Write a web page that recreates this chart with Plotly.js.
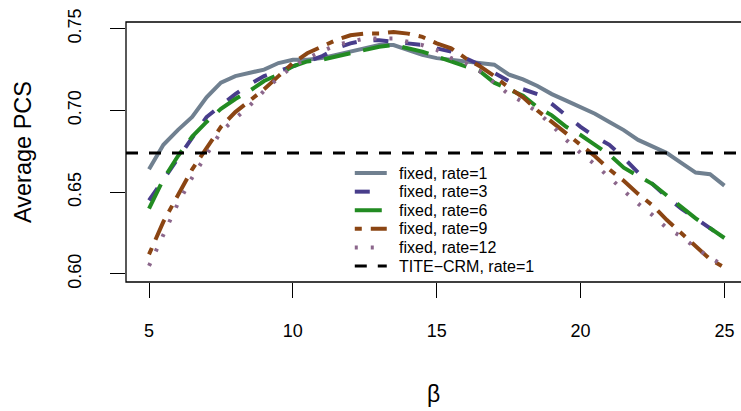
<!DOCTYPE html>
<html>
<head>
<meta charset="utf-8">
<script src="https://cdn.plot.ly/plotly-3.0.1.min.js"></script>
<style>html,body{margin:0;padding:0;background:#fff;}#chart{width:741px;height:411px;}</style>
</head>
<body>
<div id="chart"></div>
<script>
// beta grid
const beta = [5,5.5,6,6.5,7,7.5,8,8.5,9,9.5,10,10.5,11,11.5,12,12.5,13,13.5,14,14.5,15,15.5,16,16.5,17,17.5,18,18.5,19,19.5,20,20.5,21,21.5,22,22.5,23,23.5,24,24.5,25];

const rate1 = [0.664,0.679,0.688,0.696,0.708,0.717,0.721,0.723,0.725,0.729,0.731,0.731,0.732,0.734,0.736,0.738,0.740,0.740,0.737,0.734,0.732,0.731,0.730,0.729,0.728,0.722,0.719,0.715,0.710,0.706,0.702,0.698,0.693,0.688,0.682,0.678,0.674,0.668,0.662,0.661,0.654];
const rate3 = [0.645,0.658,0.671,0.684,0.696,0.703,0.710,0.716,0.721,0.724,0.727,0.730,0.733,0.738,0.741,0.743,0.743,0.742,0.741,0.740,0.738,0.736,0.732,0.728,0.723,0.718,0.713,0.710,0.704,0.697,0.690,0.684,0.679,0.671,0.662,0.655,0.647,0.640,0.634,0.628,0.622];
const rate6 = [0.640,0.658,0.672,0.684,0.693,0.701,0.707,0.712,0.718,0.722,0.727,0.730,0.731,0.733,0.735,0.737,0.739,0.740,0.738,0.736,0.733,0.730,0.727,0.724,0.717,0.713,0.709,0.702,0.697,0.690,0.685,0.679,0.673,0.665,0.660,0.655,0.648,0.641,0.634,0.628,0.622];
const rate9 = [0.612,0.632,0.648,0.664,0.677,0.690,0.699,0.706,0.713,0.721,0.729,0.735,0.739,0.743,0.746,0.747,0.747,0.748,0.747,0.745,0.741,0.738,0.732,0.727,0.721,0.714,0.708,0.700,0.693,0.686,0.679,0.672,0.664,0.657,0.649,0.642,0.633,0.625,0.617,0.609,0.604];
const rate12 = [0.605,0.624,0.643,0.659,0.673,0.687,0.695,0.703,0.712,0.720,0.727,0.732,0.736,0.740,0.742,0.744,0.744,0.744,0.742,0.740,0.737,0.732,0.729,0.724,0.717,0.710,0.705,0.699,0.691,0.682,0.674,0.667,0.659,0.651,0.643,0.636,0.628,0.623,0.616,0.610,0.605];
const titeCrm = 0.674;

const seriesNames = ["fixed, rate=1","fixed, rate=3","fixed, rate=6","fixed, rate=9","fixed, rate=12","TITE\u2212CRM, rate=1"];
const xTicks = [5,10,15,20,25];
const yTicks = [0.60,0.65,0.70,0.75];

const xRange = [4.2, 25.576];
const yRange = [0.5951, 0.7541];

const styles = [
  {color:"#708090", width:4, dash:"solid"},
  {color:"#483D8B", width:4, dash:"15px,17px"},
  {color:"#228B22", width:4, dash:"27px,13px"},
  {color:"#8B4513", width:4, dash:"7px,9px,22px,9px"},
  {color:"#8B668B", width:4, dash:"3px,13px"},
  {color:"#000000", width:3, dash:"12px,11px"}
];
const ys = [rate1, rate3, rate6, rate9, rate12];
const traces = ys.map((y,i)=>({
  x: beta, y: y, type:"scatter", mode:"lines", name: seriesNames[i],
  line: styles[i], hoverinfo:"skip", showlegend:false
}));
traces.push({
  x: xRange, y: [titeCrm, titeCrm], type:"scatter", mode:"lines", name: seriesNames[5],
  line: styles[5], hoverinfo:"skip", showlegend:false
});

// hand-built legend (R-style, no box), in paper coordinates
const legTop = 0.419, legStep = 0.0715, legX0 = 0.372, legX1 = 0.424, legTextX = 0.440;
const shapes = [{type:"rect", xref:"paper", yref:"paper", x0:0, x1:1.05, y0:0, y1:1,
           line:{color:"#000", width:1.3}, fillcolor:"rgba(0,0,0,0)", layer:"above"}];
const annotations = [];
seriesNames.forEach((nm,i)=>{
  const yy = legTop - i*legStep;
  shapes.push({type:"line", xref:"paper", yref:"paper", x0:legX0, x1:legX1, y0:yy, y1:yy,
               line:{color:styles[i].color, width:styles[i].width, dash:styles[i].dash}});
  annotations.push({xref:"paper", yref:"paper", x:legTextX, y:yy, xanchor:"left", yanchor:"middle",
               text:nm, showarrow:false, font:{size:16, color:"#000"}});
});

const fontFam = "Liberation Sans, Arial, sans-serif";
const layout = {
  width:741, height:411,
  margin:{l:126, r:0, t:22, b:129, pad:0},
  paper_bgcolor:"#fff", plot_bgcolor:"#fff",
  font:{family:fontFam, color:"#000", size:18},
  showlegend:false,
  xaxis:{range:xRange, tickvals:xTicks, ticktext:xTicks.map(String), ticks:"outside", ticklen:15,
         tickcolor:"#000", tickwidth:1, showgrid:false, zeroline:false, showline:false,
         tickfont:{size:18}, ticklabelstandoff:17,
         title:{text:"\u03b2", font:{size:23}, standoff:46}},
  yaxis:{range:yRange, tickvals:yTicks, ticktext:yTicks.map(v=>v.toFixed(2)), ticks:"outside", ticklen:15,
         tickcolor:"#000", tickwidth:1, showgrid:false, zeroline:false, showline:false,
         tickangle:-90, tickfont:{size:18}, ticklabelstandoff:22,
         title:{text:"Average PCS", font:{size:23.5}, standoff:26}},
  shapes: shapes,
  annotations: annotations
};
Plotly.newPlot("chart", traces, layout, {displayModeBar:false, staticPlot:true});
</script>
</body>
</html>
